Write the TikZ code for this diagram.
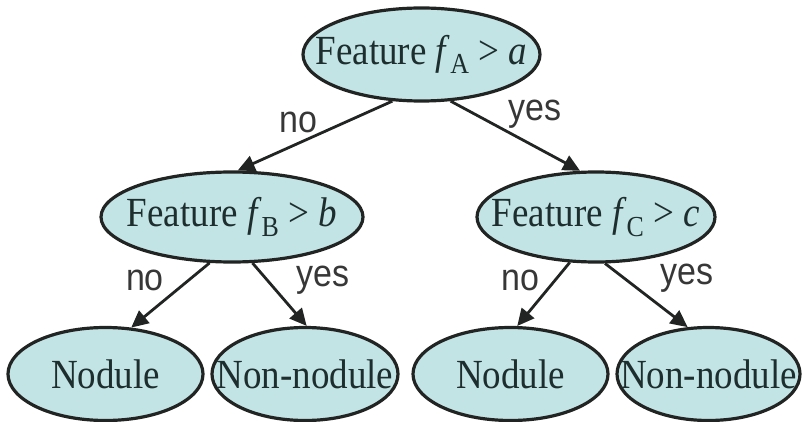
\documentclass[tikz,border=0pt]{standalone}
\usepackage{fontspec}
\usepackage{graphicx}
\setmainfont{Liberation Serif}
\newfontfamily\labelfont{Liberation Sans}
\usetikzlibrary{shapes.geometric,arrows.meta}
\definecolor{leaffill}{RGB}{194,228,229}
\definecolor{rim}{RGB}{34,36,36}
\definecolor{ink}{RGB}{30,46,46}
\definecolor{labelink}{RGB}{55,55,55}
% text in this tree is set slightly tall
\newcommand{\tall}[1]{\scalebox{1}[1.12]{#1}}
% ellipse size comes from the minimum sizes, not from the text
\newcommand{\inside}[1]{\makebox[0pt]{\tall{#1}}}
\tikzset{
  tree/.style={ellipse, draw=rim, line width=3.2pt, fill=leaffill, inner sep=0pt,
    text=ink, font=\fontsize{37}{37}\selectfont},
  branch/.style={draw=rim, line width=2.8pt, -{Triangle[length=17pt,width=16pt]}},
  answer/.style={text=labelink, font=\labelfont\fontsize{34}{34}\selectfont, inner sep=0pt}
}
\begin{document}
\begin{tikzpicture}[x=1pt,y=1pt]
\useasboundingbox (0,0) rectangle (802,-422);
% decision nodes
\node[tree, minimum width=237, minimum height=93] (root) at (421.5,-54.5)
  {\inside{Feature \textit{f}\textsubscript{A} > \textit{a}}};
\node[tree, minimum width=262, minimum height=90] (lmid) at (232,-217)
  {\inside{Feature \textit{f}\textsubscript{B} > \textit{b}}};
\node[tree, minimum width=238, minimum height=90] (rmid) at (596,-217)
  {\inside{Feature \textit{f}\textsubscript{C} > \textit{c}}};
% leaves
\node[tree, minimum width=195, minimum height=93] (lnod) at (105.5,-374) {\inside{Nodule}};
\node[tree, minimum width=186, minimum height=93] (lnon) at (305,-374) {\inside{Non-nodule}};
\node[tree, minimum width=195, minimum height=93] (rnod) at (510.5,-374) {\inside{Nodule}};
\node[tree, minimum width=183, minimum height=93] (rnon) at (708.5,-374) {\inside{Non-nodule}};
% branches
\draw[branch] (root.238) -- (lmid.83);
\draw[branch] (root.302) -- (rmid.109);
\draw[branch] (lmid.244) -- (lnod.61);
\draw[branch] (lmid.294) -- (lnon.88);
\draw[branch] (rmid.240) -- (rnod.82);
\draw[branch] (rmid.281) -- (rnon.114);
% branch labels
\node[answer] (n1) at (298,-122) {\tall{no}};
\node[answer] (y1) at (535,-114) {\tall{yes}};
\node[answer] (n2) at (145,-280) {\tall{no}};
\node[answer] (y2) at (323,-280) {\tall{yes}};
\node[answer] (n3) at (520,-280) {\tall{no}};
\node[answer] (y3) at (687,-278) {\tall{yes}};
\end{tikzpicture}
\end{document}
